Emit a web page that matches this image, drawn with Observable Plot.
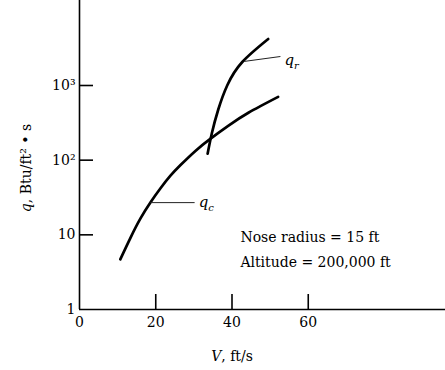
<!DOCTYPE html>
<html><head><meta charset="utf-8">
<script src="https://cdn.jsdelivr.net/npm/d3@7"></script>
<script src="https://cdn.jsdelivr.net/npm/@observablehq/plot@0.6"></script>
<style>body{margin:0;background:#fff} svg{display:block}</style>
</head><body><div id="chart"></div>
<script>
// q_c curve (convective heating)
const qcV = [10.7, 13.4, 16.0, 18.6, 21.2, 23.8, 26.5, 30.4, 34.3, 39.0, 44.3, 52.1];
const qcQ = [4.7, 9.2, 16.6, 27.1, 41.7, 61.4, 86, 133, 193, 288, 431, 703];
// q_r curve (radiative heating)
const qrV = [33.6, 34.7, 36.4, 38.8, 42.7, 49.5];
const qrQ = [122, 228, 477, 1016, 2064, 4195];
// ticks
const xTicks = [0, 20, 40, 60];
const xTickLabels = ["0", "20", "40", "60"];
const yTicks = [1, 10, 100, 1000];
const yTickLabels = ["1", "10", "10²", "10³"];
const xDomain = [0, 96];
const yDomain = [1, 13750];
// curve labels and leader lines
const curveNames = ["qc", "qr"];
const leaderV1 = [18.6, 43.2];
const leaderV2 = [30.2, 52.7];
const leaderQ1 = [27, 2100];
const leaderQ2 = [27, 2445];
const labelQ = [27, 2200];
// annotation
const notes = ["Nose radius = 15 ft", "Altitude = 200,000 ft"];
const noteV = [42.2, 42.2];
const noteQ = [9.2, 4.26];
const xLabel = "V, ft/s";
const xLabelV = 40;
const yLabel = "q, Btu/ft² • s";

const qc = qcV.map((v, i) => ({V: v, q: qcQ[i]}));
const qr = qrV.map((v, i) => ({V: v, q: qrQ[i]}));
const leaders = curveNames.map((n, i) => ({n, V1: leaderV1[i], V2: leaderV2[i], q1: leaderQ1[i], q2: leaderQ2[i], ql: labelQ[i]}));

const fs = 14;
const chart = Plot.plot({
  width: 445, height: 370,
  marginLeft: 79, marginRight: 0, marginTop: 0, marginBottom: 61,
  style: {fontFamily: "'DejaVu Serif', serif", background: "#fff", color: "#000"},
  x: {domain: xDomain, axis: null},
  y: {type: "log", domain: yDomain, axis: null},
  marks: [
    Plot.ruleX([0], {stroke: "#000", strokeWidth: 1.6}),
    Plot.ruleY([1], {stroke: "#000", strokeWidth: 1.6}),
    Plot.tickX(xTicks.filter(d => d > 0), {x: d => d, insetTop: 294, strokeWidth: 1.6}),
    Plot.tickY(yTicks.filter(d => d > 1), {y: d => d, insetRight: 352, strokeWidth: 1.6}),
    Plot.text(xTicks, {x: d => d, frameAnchor: "bottom", lineAnchor: "middle", textAnchor: "middle", dy: 13, text: (d, i) => xTickLabels[i], fontSize: fs}),
    Plot.text(yTicks, {y: d => d, frameAnchor: "left", lineAnchor: "middle", dx: -4, textAnchor: "end", text: (d, i) => yTickLabels[i], fontSize: fs}),
    Plot.text([xLabel], {x: () => xLabelV, frameAnchor: "bottom", lineAnchor: "middle", textAnchor: "middle", dy: 47, text: d => d, fontSize: fs}),
    Plot.text([yLabel], {frameAnchor: "left", textAnchor: "middle", lineAnchor: "middle", dx: -53, dy: 13, rotate: -90, text: d => d, fontSize: fs}),
    Plot.line(qc, {x: "V", y: "q", stroke: "#000", strokeWidth: 2.7, curve: "natural"}),
    Plot.line(qr, {x: "V", y: "q", stroke: "#000", strokeWidth: 2.7, curve: "natural"}),
    Plot.link(leaders, {x1: "V1", y1: "q1", x2: "V2", y2: "q2", stroke: "#222", strokeWidth: 1}),
    Plot.text(leaders, {x: "V2", y: "ql", text: "n", textAnchor: "start", dx: 4, fontSize: 15}),
    Plot.text(notes, {x: (d, i) => noteV[i], y: (d, i) => noteQ[i], text: d => d, textAnchor: "start", fontSize: fs})
  ]
});
document.getElementById("chart").appendChild(chart);

// rich text: italics, subscripts
const NS = "http://www.w3.org/2000/svg";
function rebuild(t, parts) {
  t.textContent = "";
  for (const p of parts) {
    const ts = document.createElementNS(NS, "tspan");
    ts.textContent = p.t;
    if (p.i) ts.setAttribute("font-style", "italic");
    if (p.sub) { ts.setAttribute("font-size", "10"); ts.setAttribute("dy", "4"); }
    t.appendChild(ts);
  }
}
chart.querySelectorAll("text").forEach(t => {
  const s = t.textContent;
  if (s === yLabel) rebuild(t, [{t: "q", i: 1}, {t: ", Btu/ft² • s"}]);
  else if (s === xLabel) rebuild(t, [{t: "V", i: 1}, {t: ", ft/s"}]);
  else if (s === "qc") rebuild(t, [{t: "q", i: 1}, {t: "c", i: 1, sub: 1}]);
  else if (s === "qr") rebuild(t, [{t: "q", i: 1}, {t: "r", i: 1, sub: 1}]);
});
</script>
</body></html>
